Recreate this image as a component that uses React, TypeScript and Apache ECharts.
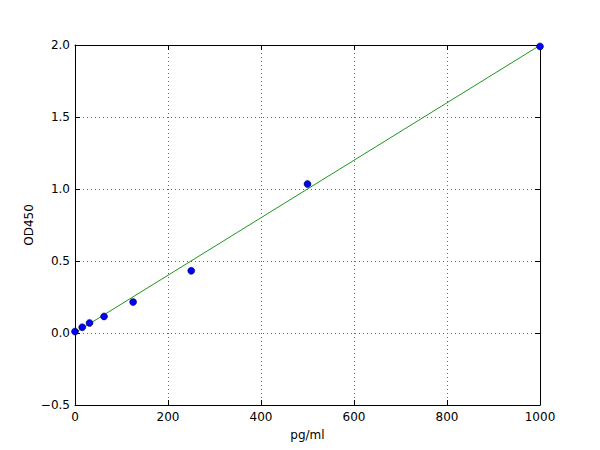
import * as echarts from 'echarts';
import { useEffect, useRef } from 'react';

// standard curve: concentration (pg/ml) vs OD450
const concentrations = [0, 15.6, 31.25, 62.5, 125, 250, 500, 1000];
const odValues = [0.01, 0.04, 0.07, 0.115, 0.215, 0.432, 1.035, 1.99];

// fitted line end points
const fitX = [0, 1000];
const fitY = [0.002, 1.998];

const FONT = 'DejaVu Sans';

const fmtY = (v: number) => (v < 0 ? '\u2212' + Math.abs(v).toFixed(1) : v.toFixed(1));

const App: React.FC = () => {
  const chartRef = useRef<HTMLDivElement>(null);

  useEffect(() => {
    if (!chartRef.current) return;
    const chart = echarts.init(chartRef.current, undefined, { renderer: 'svg' });

    const tick = { show: true, inside: true, length: 5, lineStyle: { color: '#000', width: 1 } };
    const line = { show: true, onZero: false, lineStyle: { color: '#000', width: 1 } };
    const grid = { show: true, lineStyle: { color: '#666', width: 1, type: [1, 3] as number[] } };
    const label = { color: '#000', fontFamily: FONT, fontSize: 12 };

    chart.setOption({
      animation: false,
      backgroundColor: '#fff',
      textStyle: { fontFamily: FONT },
      grid: { left: 75, right: 60, top: 45, bottom: 45 },
      xAxis: [
        {
          type: 'value',
          min: 0,
          max: 1000,
          interval: 200,
          name: 'pg/ml',
          nameLocation: 'middle',
          nameGap: 24,
          nameTextStyle: label,
          axisLine: line,
          axisTick: tick,
          splitLine: grid,
          axisLabel: { ...label, margin: 6, formatter: (v: number) => String(v) },
        },
        {
          type: 'value',
          position: 'top',
          min: 0,
          max: 1000,
          interval: 200,
          axisLine: line,
          axisTick: tick,
          splitLine: { show: false },
          axisLabel: { show: false },
        },
      ],
      yAxis: [
        {
          type: 'value',
          min: -0.5,
          max: 2.0,
          interval: 0.5,
          name: 'OD450',
          nameLocation: 'middle',
          nameRotate: 90,
          nameGap: 40,
          nameMoveOverlap: false,
          nameTextStyle: label,
          axisLine: line,
          axisTick: tick,
          splitLine: grid,
          axisLabel: { ...label, margin: 5, formatter: fmtY },
        },
        {
          type: 'value',
          position: 'right',
          min: -0.5,
          max: 2.0,
          interval: 0.5,
          axisLine: line,
          axisTick: tick,
          splitLine: { show: false },
          axisLabel: { show: false },
        },
      ],
      series: [
        {
          type: 'line',
          data: fitX.map((x, i) => [x, fitY[i]]),
          symbol: 'none',
          lineStyle: { color: '#1e961e', width: 1 },
          z: 2,
        },
        {
          type: 'scatter',
          data: concentrations.map((x, i) => [x, odValues[i]]),
          symbolSize: 7,
          itemStyle: { color: '#0000ff', borderColor: '#000', borderWidth: 0.5, opacity: 1 },
          z: 3,
        },
      ],
    });

    return () => {
      chart.dispose();
    };
  }, []);

  return (
    <div
      ref={chartRef}
      style={{ position: 'fixed', left: 0, top: 0, width: 600, height: 450 }}
    ></div>
  );
};

export default App;
